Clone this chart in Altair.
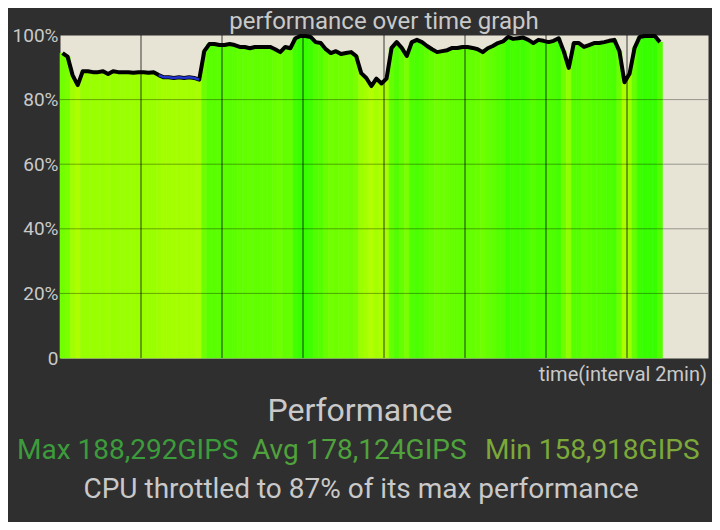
import altair as alt
import pandas as pd

# ---- data ----
STEP_S = 7.5  # seconds per sample
perf_pct = [
    94.4, 93.3, 87.5, 84.5, 88.8, 88.8, 88.5, 88.5, 88.8, 87.9,
    88.8, 88.5, 88.5, 88.5, 88.3, 88.5, 88.5, 88.3, 88.5, 87.6,
    86.9, 86.9, 86.7, 86.9, 86.7, 86.9, 86.7, 86.2, 95.0, 97.2,
    97.2, 96.9, 96.9, 97.2, 96.9, 96.3, 96.3, 95.9, 96.3, 96.3,
    96.3, 96.3, 95.6, 94.7, 96.3, 95.9, 99.0, 99.7, 99.7, 99.4,
    97.8, 97.5, 95.6, 94.4, 95.0, 94.1, 94.4, 94.7, 93.5, 88.2,
    86.7, 84.2, 86.5, 85.0, 86.5, 96.0, 97.8, 96.0, 93.5, 97.8,
    98.5, 97.8, 96.6, 95.6, 94.7, 95.0, 95.3, 96.0, 96.0, 96.3,
    96.3, 96.0, 95.6, 94.7, 95.9, 96.6, 97.5, 98.0, 99.4, 98.8,
    99.0, 99.2, 98.5, 97.5, 98.5, 98.2, 97.8, 98.2, 99.0, 95.0,
    89.8, 97.5, 97.5, 96.3, 96.9, 97.5, 97.5, 97.8, 98.2, 98.5,
    95.0, 85.4, 88.0, 96.0, 99.4, 99.7, 99.7, 99.7, 97.8,
]
blue_range = (19, 27)  # samples drawn with the blue line
time_domain_s = [0, 960]
x_grid_s = [120, 240, 360, 480, 600, 720, 840]
y_ticks = [0, 20, 40, 60, 80, 100]
y_grid = [20, 40, 60, 80]

title_text = "performance over time graph"
x_label_text = "time(interval 2min)"
heading_text = "Performance"
stat_labels = ["Max 188,292GIPS", "Avg 178,124GIPS", "Min 158,918GIPS"]
stat_colors = ["#3c9c3c", "#4fa23c", "#7ca83a"]
stat_x = [-43, 192, 425]
footer_text = "CPU throttled to 87% of its max performance"

TXT = "#c9c9c9"
FONT = "Roboto"

df = pd.DataFrame({
    "idx": list(range(len(perf_pct))),
    "value": perf_pct,
})
df["t0"] = df["idx"] * STEP_S
df["t1"] = df["t0"] + STEP_S
df["tm"] = df["t0"] + STEP_S / 2
df["zero"] = 0

xs = alt.Scale(domain=time_domain_s, nice=False, zero=False)
ys = alt.Scale(domain=[0, 100], nice=False)
cs = alt.Scale(domain=[83, 100], range=["#b8ff00", "#33ff00"])

base = alt.Chart(df)

bars = base.mark_rect(strokeWidth=0.6).encode(
    x=alt.X("t0:Q", scale=xs, axis=None),
    x2="t1:Q",
    y=alt.Y("value:Q", scale=ys, axis=alt.Axis(
        values=y_ticks, grid=False, ticks=False, domain=False,
        labelExpr="datum.value == 0 ? '0' : datum.value + '%'",
        labelFontSize=19, labelColor=TXT, labelFont=FONT, labelPadding=2,
        title=None)),
    y2="zero:Q",
    color=alt.Color("value:Q", scale=cs, legend=None),
    stroke=alt.Stroke("value:Q", scale=cs, legend=None),
)

vgrid = alt.Chart(pd.DataFrame({"t": x_grid_s})).mark_rule(
    color="black", opacity=0.75, strokeWidth=1
).encode(x=alt.X("t:Q", scale=xs))

hgrid = alt.Chart(pd.DataFrame({"v": y_grid})).mark_rule(
    color="black", opacity=0.35, strokeWidth=1
).encode(y=alt.Y("v:Q", scale=ys))

line = base.mark_line(color="black", strokeWidth=4, strokeJoin="round").encode(
    x=alt.X("tm:Q", scale=xs), y=alt.Y("value:Q", scale=ys)
)
blue = base.transform_filter(
    (alt.datum.idx >= blue_range[0]) & (alt.datum.idx <= blue_range[1])
).mark_line(color="#2233cc", strokeWidth=2.5).encode(
    x=alt.X("tm:Q", scale=xs), y=alt.Y("value:Q", scale=ys)
)

def txt(s, x, y, size, color=TXT, align="center"):
    return alt.Chart(pd.DataFrame({"s": [s]})).mark_text(
        font=FONT, fontSize=size, color=color, align=align, baseline="alphabetic"
    ).encode(text="s:N", x=alt.value(x), y=alt.value(y))

texts = [
    txt(title_text, 324, -6, 24),
    txt(x_label_text, 647, 346, 20, align="right"),
    txt(heading_text, 300, 386, 32),
    txt(footer_text, 301, 463, 28),
]
for lab, col, xx in zip(stat_labels, stat_colors, stat_x):
    texts.append(txt(lab, xx, 424, 28, color=col, align="left"))

chart = alt.layer(bars, hgrid, vgrid, line, blue, *texts).properties(
    width=648, height=323, autosize="none",
    padding={"left": 52, "top": 27, "right": 4, "bottom": 164},
    background="#2f2f2f",
).configure_view(fill="#e7e4d6", stroke="transparent")

chart.save("out.html", embed_options={"renderer": "svg", "actions": False})
